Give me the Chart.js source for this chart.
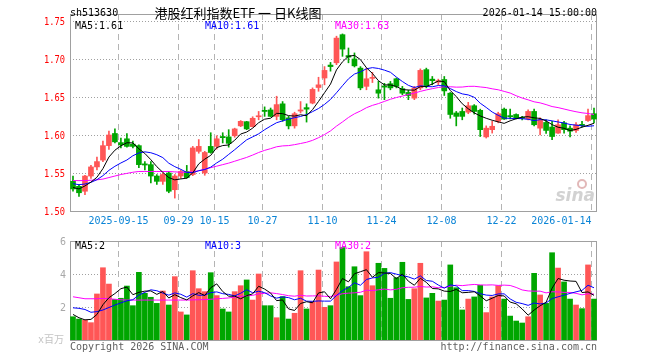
<!DOCTYPE html>
<html>
<head>
<meta charset="utf-8">
<script src="https://cdn.jsdelivr.net/npm/chart.js@4.4.1/dist/chart.umd.min.js"></script>
<style>
  html, body { margin: 0; padding: 0; background: #fff; }
  #wrap { position: relative; width: 660px; height: 360px; }
  #wrap canvas { position: absolute; left: 0; top: 0; }
</style>
</head>
<body>
<div id="wrap">
  <canvas id="priceChart" width="660" height="360"></canvas>
  <canvas id="volChart" width="660" height="360"></canvas>
</div>
<script>
// trading days shown (2025-09-03 .. 2026-01-14)
const dates = [
  '2025-09-03','2025-09-04','2025-09-05','2025-09-08','2025-09-09','2025-09-10','2025-09-11','2025-09-12',
  '2025-09-15','2025-09-16','2025-09-17','2025-09-18','2025-09-19','2025-09-22','2025-09-23','2025-09-24',
  '2025-09-25','2025-09-26','2025-09-29','2025-09-30','2025-10-09','2025-10-10','2025-10-13','2025-10-14',
  '2025-10-15','2025-10-16','2025-10-17','2025-10-20','2025-10-21','2025-10-22','2025-10-23','2025-10-24',
  '2025-10-27','2025-10-28','2025-10-29','2025-10-30','2025-10-31','2025-11-03','2025-11-04','2025-11-05',
  '2025-11-06','2025-11-07','2025-11-10','2025-11-11','2025-11-12','2025-11-13','2025-11-14','2025-11-17',
  '2025-11-18','2025-11-19','2025-11-20','2025-11-21','2025-11-24','2025-11-25','2025-11-26','2025-11-27',
  '2025-11-28','2025-12-01','2025-12-02','2025-12-03','2025-12-04','2025-12-05','2025-12-08','2025-12-09',
  '2025-12-10','2025-12-11','2025-12-12','2025-12-15','2025-12-16','2025-12-17','2025-12-18','2025-12-19',
  '2025-12-22','2025-12-23','2025-12-24','2025-12-25','2025-12-26','2025-12-29','2025-12-30','2025-12-31',
  '2026-01-05','2026-01-06','2026-01-07','2026-01-08','2026-01-09','2026-01-12','2026-01-13','2026-01-14',
];

const opens = [
  1.539, 1.5325, 1.526, 1.546, 1.558, 1.567, 1.586, 1.602, 1.590, 1.595,
  1.588, 1.586, 1.562, 1.561, 1.546, 1.539, 1.550, 1.528, 1.546, 1.552,
  1.548, 1.5785, 1.550, 1.585, 1.585, 1.598, 1.5975, 1.599, 1.612, 1.6175,
  1.611, 1.624, 1.6325, 1.633, 1.6245, 1.641, 1.6225, 1.612, 1.6315, 1.636,
  1.642, 1.6625, 1.675, 1.692, 1.695, 1.732, 1.7045, 1.700, 1.688, 1.664,
  1.6745, 1.6595, 1.6645, 1.6675, 1.674, 1.661, 1.656, 1.6485, 1.662, 1.686,
  1.6735, 1.6695, 1.673, 1.655, 1.629, 1.631, 1.630, 1.6385, 1.6325, 1.5975,
  1.607, 1.618, 1.634, 1.6255, 1.627, 1.623, 1.621, 1.631, 1.609, 1.6165,
  1.6105, 1.6025, 1.616, 1.609, 1.606, 1.614, 1.619, 1.628,
];
const highs = [
  1.546, 1.5346, 1.547, 1.560, 1.571, 1.592, 1.605, 1.608, 1.596, 1.602,
  1.592, 1.587, 1.565, 1.565, 1.548, 1.550, 1.552, 1.548, 1.554, 1.560,
  1.585, 1.594, 1.5785, 1.603, 1.599, 1.603, 1.607, 1.609, 1.619, 1.618,
  1.624, 1.631, 1.637, 1.6355, 1.651, 1.644, 1.6245, 1.630, 1.644, 1.641,
  1.662, 1.676, 1.690, 1.6955, 1.730, 1.733, 1.7145, 1.708, 1.690, 1.688,
  1.6825, 1.6705, 1.668, 1.6705, 1.675, 1.664, 1.659, 1.664, 1.687, 1.688,
  1.677, 1.6735, 1.677, 1.656, 1.631, 1.6355, 1.643, 1.640, 1.634, 1.612,
  1.618, 1.630, 1.6355, 1.634, 1.628, 1.6245, 1.633, 1.634, 1.6225, 1.620,
  1.618, 1.620, 1.618, 1.612, 1.6165, 1.618, 1.634, 1.6355,
];
const lows = [
  1.526, 1.5193, 1.5215, 1.543, 1.554, 1.565, 1.581, 1.5895, 1.583, 1.584,
  1.583, 1.557, 1.554, 1.537, 1.535, 1.535, 1.524, 1.517, 1.543, 1.543,
  1.5465, 1.576, 1.547, 1.576, 1.5815, 1.5895, 1.584, 1.597, 1.611, 1.607,
  1.6105, 1.620, 1.6245, 1.624, 1.620, 1.618, 1.608, 1.609, 1.629, 1.617,
  1.641, 1.6575, 1.666, 1.684, 1.6925, 1.7035, 1.695, 1.6895, 1.6595, 1.6595,
  1.669, 1.6485, 1.6465, 1.6595, 1.662, 1.653, 1.6465, 1.6465, 1.6595, 1.662,
  1.666, 1.666, 1.652, 1.622, 1.612, 1.620, 1.628, 1.6275, 1.598, 1.596,
  1.6025, 1.616, 1.6205, 1.621, 1.621, 1.620, 1.620, 1.612, 1.600, 1.602,
  1.594, 1.602, 1.6025, 1.5975, 1.6035, 1.6105, 1.618, 1.616,
];
const closes = [
  1.529, 1.524, 1.546, 1.558, 1.565, 1.586, 1.600, 1.591, 1.587, 1.585,
  1.585, 1.561, 1.5605, 1.546, 1.539, 1.548, 1.526, 1.546, 1.552, 1.544,
  1.583, 1.585, 1.577, 1.577, 1.595, 1.5965, 1.589, 1.608, 1.618, 1.608,
  1.622, 1.625, 1.631, 1.6245, 1.640, 1.620, 1.612, 1.628, 1.633, 1.634,
  1.660, 1.666, 1.685, 1.690, 1.7275, 1.713, 1.7025, 1.691, 1.662, 1.674,
  1.6755, 1.655, 1.663, 1.662, 1.664, 1.655, 1.652, 1.662, 1.685, 1.665,
  1.6715, 1.6715, 1.658, 1.627, 1.6245, 1.6245, 1.6385, 1.631, 1.607, 1.609,
  1.6115, 1.628, 1.621, 1.624, 1.6225, 1.622, 1.631, 1.6135, 1.620, 1.606,
  1.598, 1.6135, 1.607, 1.605, 1.6135, 1.6125, 1.6255, 1.621,
];
// volume, 百万
const volumes = [
  1.41, 1.27, 1.21, 1.05, 2.79, 4.38, 3.39, 2.46, 2.53, 3.27,
  2.08, 4.10, 2.83, 2.59, 2.22, 2.97, 2.12, 3.84, 1.70, 1.52,
  4.20, 3.11, 2.93, 4.08, 2.69, 1.88, 1.70, 2.93, 3.29, 3.64,
  2.42, 4.00, 2.08, 2.08, 1.35, 2.63, 1.27, 1.62, 4.20, 1.88,
  2.32, 4.24, 1.98, 2.08, 4.73, 5.60, 3.23, 4.44, 2.69, 5.35,
  3.29, 4.65, 4.34, 2.53, 3.78, 4.71, 2.46, 3.11, 4.65, 2.55,
  2.83, 2.36, 2.42, 4.55, 3.17, 1.82, 2.48, 2.61, 3.31, 1.66,
  2.61, 3.29, 2.48, 1.45, 1.15, 1.03, 1.41, 4.04, 2.73, 2.22,
  5.29, 4.36, 3.52, 2.48, 2.12, 1.90, 4.55, 2.48,
];

// moving average values at the left edge (history is not on screen)
const ma5Head = [1.531, 1.529, 1.533, 1.538];
const ma10Head = [1.536, 1.5346, 1.5355, 1.5377, 1.5412, 1.5465, 1.5535, 1.5588, 1.5632];
const ma30Head = [
  1.540, 1.540, 1.540, 1.5405, 1.541, 1.542, 1.544, 1.546, 1.548, 1.5495,
  1.551, 1.552, 1.552, 1.552, 1.552, 1.552, 1.552, 1.5515, 1.551, 1.551,
  1.5515, 1.553, 1.555, 1.557, 1.559, 1.561, 1.563, 1.5655, 1.568,
];
const vma5Head = [1.55, 1.35, 1.22, 1.25];
const vma10Head = [1.95, 1.92, 1.85, 1.68, 1.72, 1.82, 1.97, 2.12, 2.25];
const vma30Head = [
  2.62, 2.56, 2.50, 2.50, 2.50, 2.52, 2.50, 2.47, 2.44, 2.42,
  2.42, 2.42, 2.42, 2.42, 2.42, 2.42, 2.42, 2.42, 2.42, 2.42,
  2.43, 2.44, 2.45, 2.47, 2.50, 2.52, 2.55, 2.60, 2.64,
];

const tickDates = ['2025-09-15','2025-09-29','2025-10-15','2025-10-27','2025-11-10','2025-11-24','2025-12-08','2025-12-22','2026-01-14'];
const tickLabels = ['2025-09-15','09-29','10-15','10-27','11-10','11-24','12-08','12-22','2026-01-14'];
const priceTicks = [1.50, 1.55, 1.60, 1.65, 1.70, 1.75];
const volTicks = [2, 4, 6];

const UP = '#ff5656';
const DOWN = '#00a600';
const MONO = '10px "DejaVu Sans Mono", monospace';

function movingAvg(values, n, head) {
  return values.map((v, i) => {
    if (i < n - 1) return head[i];
    let s = 0;
    for (let k = i - n + 1; k <= i; k++) s += values[k];
    return s / n;
  });
}

const colors = closes.map((c, i) => (c >= opens[i] ? UP : DOWN));
const bodies = opens.map((o, i) => [o, closes[i]]);
const wicks = lows.map((l, i) => [l, highs[i]]);

function text(ctx, s, x, y, opt) {
  opt = opt || {};
  ctx.save();
  ctx.font = opt.font || MONO;
  ctx.fillStyle = opt.color || '#000';
  ctx.textAlign = opt.align || 'left';
  ctx.textBaseline = 'middle';
  ctx.translate(x, y);
  if (opt.sx) ctx.scale(opt.sx, 1);
  ctx.fillText(s, 0, 0);
  ctx.restore();
}

function tickX(chart, d) {
  const x = chart.scales.x;
  const step = x.getPixelForValue(1) - x.getPixelForValue(0);
  return Math.round(x.getPixelForValue(dates.indexOf(d)) - step / 2) + 0.5;
}

function drawFrame(chart, hTicks) {
  const { ctx, chartArea: a, scales } = chart;
  ctx.save();
  ctx.lineWidth = 1;
  ctx.strokeStyle = '#a0a0a0';
  ctx.setLineDash([1, 2]);
  hTicks.forEach((t) => {
    const y = Math.round(scales.y.getPixelForValue(t)) + 0.5;
    if (y <= a.top + 1 || y >= a.bottom - 1) return;
    ctx.beginPath();
    ctx.moveTo(a.left, y);
    ctx.lineTo(a.right, y);
    ctx.stroke();
  });
  ctx.strokeStyle = '#b4b4b4';
  ctx.setLineDash([6, 4]);
  tickDates.forEach((d) => {
    const x = tickX(chart, d);
    ctx.beginPath();
    ctx.moveTo(x, a.top);
    ctx.lineTo(x, a.bottom);
    ctx.stroke();
  });
  ctx.setLineDash([]);
  ctx.strokeStyle = '#a0a0a0';
  ctx.strokeRect(a.left + 0.5, a.top + 0.5, a.right - a.left - 1, a.bottom - a.top);
  ctx.restore();
}

const pricePlugin = {
  id: 'priceFrame',
  beforeDatasetsDraw(chart) {
    const { ctx, chartArea: a } = chart;
    drawFrame(chart, priceTicks);
    // sina watermark
    ctx.save();
    ctx.strokeStyle = '#e2b8b8';
    ctx.lineWidth = 2;
    ctx.beginPath();
    ctx.arc(a.right - 15, a.bottom - 27, 4, 0, Math.PI * 2);
    ctx.stroke();
    ctx.restore();
    text(ctx, 'sina', a.right - 2, a.bottom - 14, { font: 'italic bold 17px "DejaVu Sans", sans-serif', color: '#d2d2d2', align: 'right' });
  },
  afterDraw(chart) {
    const { ctx, chartArea: a, scales } = chart;
    text(ctx, 'sh513630', 70, 13);
    text(ctx, '港股红利指数ETF 一 日K线图', 238, 13, { font: '13px "Noto Sans CJK SC", sans-serif', align: 'center' });
    text(ctx, '2026-01-14 15:00:00', 597, 13, { align: 'right' });
    text(ctx, 'MA5:1.61', 75, 26, { color: '#000' });
    text(ctx, 'MA10:1.61', 205, 26, { color: '#0000ff' });
    text(ctx, 'MA30:1.63', 335, 26, { color: '#ff00ff' });
    priceTicks.forEach((t) => {
      text(ctx, t.toFixed(2), 65, scales.y.getPixelForValue(t) + 1, { color: '#ff0000', align: 'right', sx: 0.87 });
    });
    tickDates.forEach((d, i) => {
      const x = tickX(chart, d);
      const last = i === tickDates.length - 1;
      text(ctx, tickLabels[i], last ? x : x, a.bottom + 10, { color: '#0a84d6', align: last ? 'right' : 'center' });
    });
  },
};

const volPlugin = {
  id: 'volFrame',
  beforeDatasetsDraw(chart) {
    drawFrame(chart, volTicks);
  },
  afterDraw(chart) {
    const { ctx, chartArea: a, scales } = chart;
    text(ctx, 'MA5:2', 75, 246, { color: '#000' });
    text(ctx, 'MA10:3', 205, 246, { color: '#0000ff' });
    text(ctx, 'MA30:2', 335, 246, { color: '#ff00ff' });
    volTicks.forEach((t) => {
      text(ctx, String(t), 66, scales.y.getPixelForValue(t) + 1, { color: '#a8a8a8', align: 'right' });
    });
    text(ctx, 'x百万', 64, 340, { font: '10px "DejaVu Sans Mono", "Noto Sans CJK SC", monospace', color: '#c4c4c4', align: 'right' });
    text(ctx, 'Copyright 2026 SINA.COM', 70, 347, { color: '#606060' });
    text(ctx, 'http://finance.sina.com.cn', 597, 347, { color: '#606060', align: 'right' });
  },
};

function lineSet(label, data, color) {
  return { type: 'line', label, data, borderColor: color, borderWidth: 1, pointRadius: 0, tension: 0, order: 0 };
}

const commonOptions = (padding, yMin, yMax) => ({
  responsive: false,
  animation: false,
  events: [],
  layout: { padding },
  plugins: { legend: { display: false }, tooltip: { enabled: false } },
  scales: {
    x: { display: false, offset: true },
    y: { display: false, min: yMin, max: yMax },
  },
});

new Chart(document.getElementById('priceChart'), {
  type: 'bar',
  data: {
    labels: dates,
    datasets: [
      lineSet('MA5', movingAvg(closes, 5, ma5Head), '#000000'),
      lineSet('MA10', movingAvg(closes, 10, ma10Head), '#0000ff'),
      lineSet('MA30', movingAvg(closes, 30, ma30Head), '#ff00ff'),
      { label: 'body', data: bodies, backgroundColor: colors, barThickness: 5, minBarLength: 1, grouped: false, order: 1 },
      { label: 'wick', data: wicks, backgroundColor: colors, barThickness: 1, grouped: false, order: 2 },
    ],
  },
  options: commonOptions({ left: 70, right: 63, top: 14, bottom: 149 }, 1.50, 1.50 + 197 / 760),
  plugins: [pricePlugin],
});

new Chart(document.getElementById('volChart'), {
  type: 'bar',
  data: {
    labels: dates,
    datasets: [
      lineSet('MA5', movingAvg(volumes, 5, vma5Head), '#000000'),
      lineSet('MA10', movingAvg(volumes, 10, vma10Head), '#0000ff'),
      lineSet('MA30', movingAvg(volumes, 30, vma30Head), '#ff00ff'),
      { label: 'volume', data: volumes, backgroundColor: colors, barThickness: 5, grouped: false, order: 1 },
    ],
  },
  options: commonOptions({ left: 70, right: 63, top: 241, bottom: 20 }, 0, 6),
  plugins: [volPlugin],
});
</script>
</body>
</html>
